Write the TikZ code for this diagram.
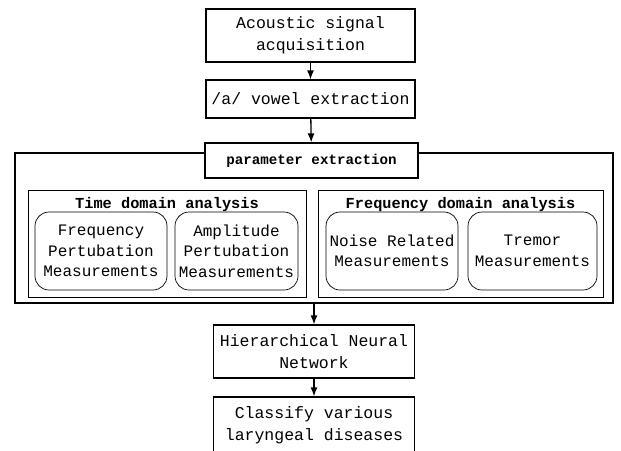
\documentclass[tikz,border=0pt]{standalone}
\usepackage{fontspec}
\setmainfont{Liberation Mono}
\usetikzlibrary{positioning,shapes,arrows,arrows.meta}

\begin{document}
\begin{tikzpicture}[x=1pt,y=-1pt,
										stepbox/.style={draw,line width=1.2pt,align=center,inner sep=0pt,font=\fontsize{16.5}{22}\selectfont},
										areabox/.style={draw,line width=0.7pt,inner sep=0pt},
										measbox/.style={draw,line width=0.7pt,rounded corners=14pt,align=center,inner sep=0pt,minimum height=78pt,font=\fontsize{16}{20.5}\selectfont},
										headtext/.style={font=\fontsize{15.3}{18}\selectfont\bfseries},
										flow/.style={-{Latex[length=9pt,width=7pt]},line width=1.3pt}
										]
	\useasboundingbox (0,0) rectangle (621,450);
	\node[stepbox,minimum width=209pt,minimum height=53pt] (acq) at (310.5,35.5) {Acoustic signal\\acquisition};
	\node[stepbox,minimum width=209pt,minimum height=38pt] (vowel) at (310.5,99) {/a/ vowel extraction};
	\node[stepbox,minimum width=598pt,minimum height=150pt] (outer) at (314,228) {};
	\node[stepbox,fill=white,minimum width=213pt,minimum height=35pt,font=\fontsize{14.2}{18}\selectfont\bfseries] (param) at (311.5,160.5) {parameter extraction};

	\node[areabox,minimum width=278pt,minimum height=107pt] (time) at (167,243.5) {};
	\node[areabox,minimum width=285pt,minimum height=107pt] (freq) at (460.5,243.5) {};
	\node[headtext] (timehead) at (167,205) {Time domain analysis};
	\node[headtext] (freqhead) at (460.5,205) {Frequency domain analysis};

	\node[measbox,minimum width=132pt] (fpm) at (101,251) {Frequency\\Pertubation\\Measurements};
	\node[measbox,minimum width=123pt] (apm) at (236.5,251) {Amplitude\\Pertubation\\Measurements};
	\node[measbox,minimum width=132pt] (nrm) at (392,251) {Noise Related\\Measurements};
	\node[measbox,minimum width=129pt] (trm) at (532.5,251) {Tremor\\Measurements};

	\node[stepbox,minimum width=201pt,minimum height=53pt] (hnn) at (314,351.5) {Hierarchical Neural\\Network};
	\node[stepbox,minimum width=201pt,minimum height=56pt] (cls) at (314,425) {Classify various\\laryngeal diseases};

	\path (acq) edge[flow] (vowel)
	(vowel) edge[flow] (param)
	(outer) edge[flow] (hnn)
	(hnn) edge[flow] (cls);

\end{tikzpicture}
\end{document}
